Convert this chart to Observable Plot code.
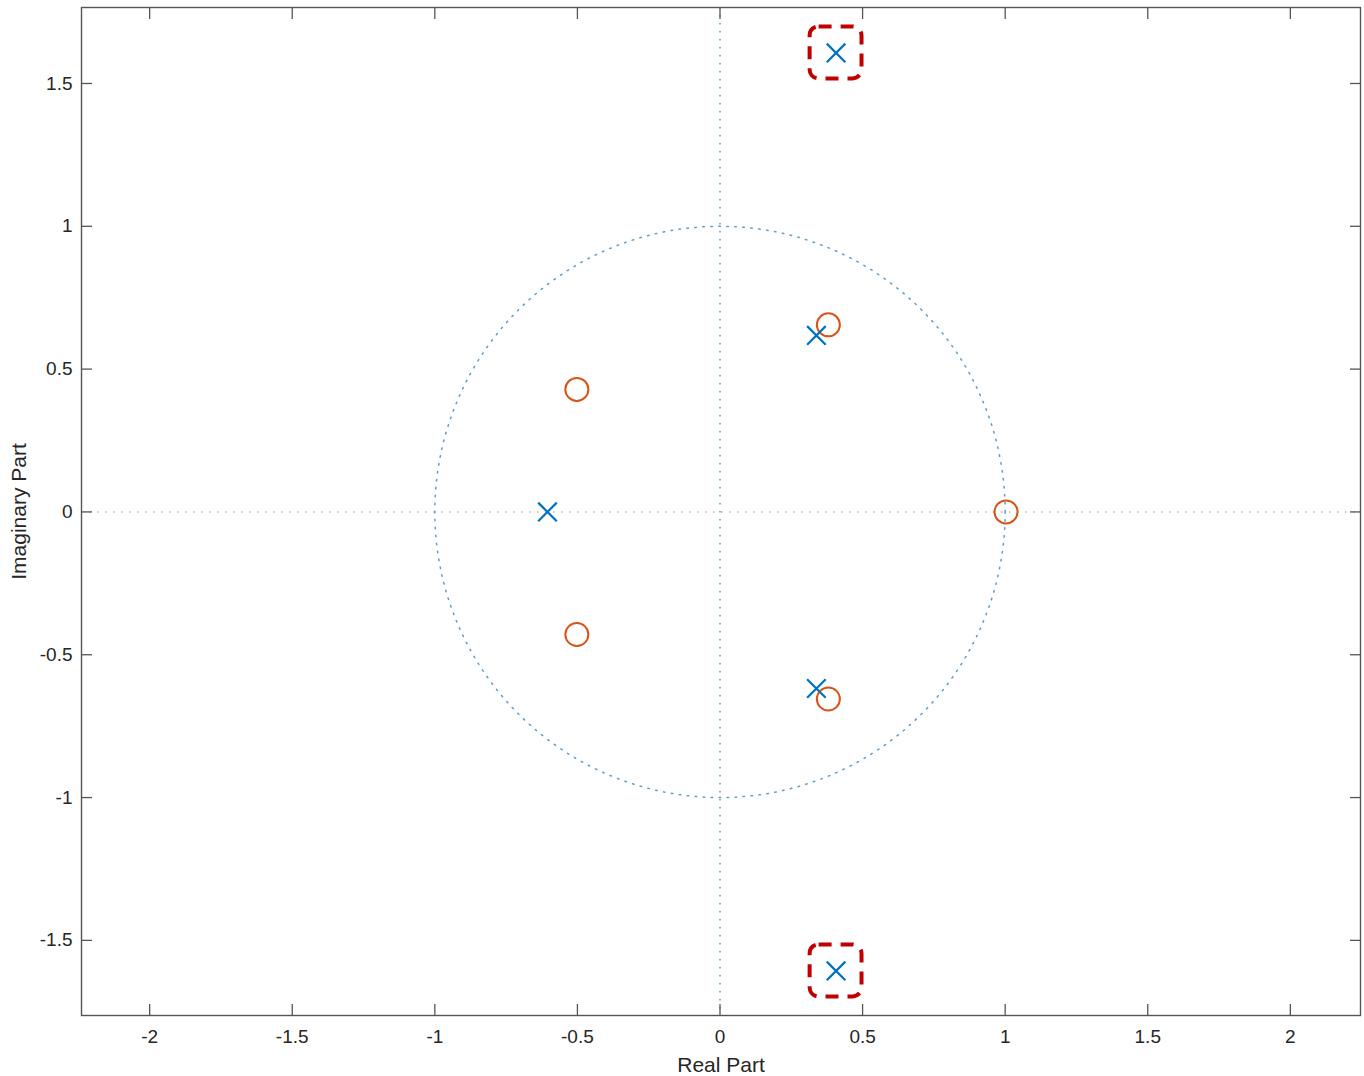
<!DOCTYPE html>
<html><head><meta charset="utf-8">
<script src="https://cdn.jsdelivr.net/npm/d3@7"></script>
<script src="https://cdn.jsdelivr.net/npm/@observablehq/plot@0.6"></script>
<style>body{margin:0;background:#fff;} #chart svg{display:block;}</style>
</head><body><div id="chart"></div>
<script>
// Poles (×) and zeros (○) of the transfer function
const poleRe = [0.407, 0.407, -0.605, 0.338, 0.338];
const poleIm = [1.607, -1.607, 0, 0.618, -0.618];
const zeroRe = [1.003, -0.502, -0.502, 0.380, 0.380];
const zeroIm = [0, 0.429, -0.429, 0.655, -0.655];
// Highlighted (unstable) poles
const highlightRe = [0.407, 0.407];
const highlightIm = [1.607, -1.607];
// Axis ticks
const xTicks = [-2, -1.5, -1, -0.5, 0, 0.5, 1, 1.5, 2];
const yTicks = [-1.5, -1, -0.5, 0, 0.5, 1, 1.5];
const xDomain = [-2.239, 2.246];
const yDomain = [-1.763, 1.766];

const poles = poleRe.map((re, i) => ({re, im: poleIm[i]}));
const zeros = zeroRe.map((re, i) => ({re, im: zeroIm[i]}));
const highlights = highlightRe.map((re, i) => ({re, im: highlightIm[i]}));
const angles = d3.range(0, 361, 1);
const unitCircle = angles.map(a => ({re: Math.cos(a * Math.PI / 180), im: Math.sin(a * Math.PI / 180)}));
const boxHalf = 0.091;

const fmt = d => String(d);
const fontFamily = "'Liberation Sans', Arial, Helvetica, sans-serif";

const chart = Plot.plot({
  width: 1364,
  height: 1076,
  marginTop: 7,
  marginLeft: 81,
  marginRight: 4,
  marginBottom: 61,
  style: {fontFamily, fontSize: "19px", color: "#262626", background: "#fff"},
  x: {domain: xDomain, ticks: xTicks, labelArrow: "none"},
  y: {domain: yDomain, ticks: yTicks, labelArrow: "none"},
  marks: [
    // reference lines
    Plot.ruleY([0], {stroke: "#eaa893", strokeWidth: 1.5, strokeDasharray: "1.5,6.5"}),
    Plot.ruleX([0], {stroke: "#5b9bcb", strokeWidth: 1.5, strokeDasharray: "1.5,6.5"}),
    Plot.line(unitCircle, {x: "re", y: "im", stroke: "#5b9bcb", strokeWidth: 1.5, strokeDasharray: "1.5,6.5"}),
    // highlight boxes
    Plot.rect(highlights, {
      x1: d => d.re - boxHalf, x2: d => d.re + boxHalf,
      y1: d => d.im - boxHalf, y2: d => d.im + boxHalf,
      fill: "none", stroke: "#c00000", strokeWidth: 4, strokeDasharray: "13,9", rx: 9
    }),
    // zeros and poles
    Plot.dot(zeros, {x: "re", y: "im", r: 11.5, stroke: "#D95319", strokeWidth: 2, fill: "none"}),
    Plot.dot(poles, {x: "re", y: "im", r: 8.5, symbol: "times", stroke: "#0072BD", strokeWidth: 2.2}),
    // axes with inward ticks
    Plot.axisX(xTicks, {anchor: "bottom", tickSize: -11, tickPadding: 25, tickFormat: fmt, stroke: "#555", strokeWidth: 1.3,
      label: "Real Part", labelArrow: "none", labelAnchor: "center", labelOffset: 56, fill: "#262626"}),
    Plot.axisX(xTicks, {anchor: "top", tickSize: -11, tickFormat: () => "", stroke: "#555", strokeWidth: 1.3, label: null}),
    Plot.axisY(yTicks, {anchor: "left", tickSize: -11, tickPadding: 20, tickFormat: fmt, stroke: "#555", strokeWidth: 1.3,
      label: "Imaginary Part", labelArrow: "none", labelAnchor: "center", labelOffset: 70, fill: "#262626"}),
    Plot.axisY(yTicks, {anchor: "right", tickSize: -11, tickFormat: () => "", stroke: "#555", strokeWidth: 1.3, label: null}),
    Plot.frame({stroke: "#555", strokeWidth: 1.4})
  ]
});
chart.querySelectorAll("g[aria-label$='axis label'] text").forEach(t => {
  t.style.fontSize = "21px";
  t.textContent = t.textContent.replace(/\s*[→↑←↓]\s*/g, "");
});
document.getElementById("chart").append(chart);
</script>
</body></html>
